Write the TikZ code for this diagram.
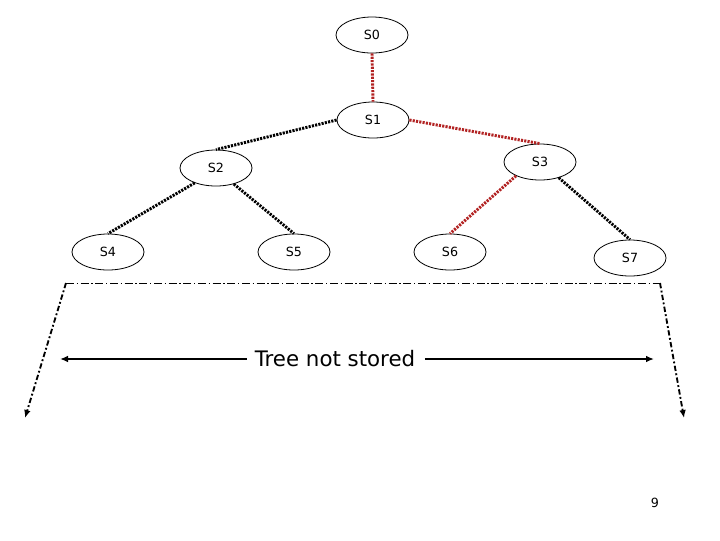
\documentclass[tikz,border=0pt]{standalone}
\usepackage{fontspec}
\setmainfont{DejaVu Sans}
\usetikzlibrary{shapes.geometric,arrows.meta}
\definecolor{edgered}{RGB}{178,34,34}
\tikzset{
  st/.style={ellipse,draw,line width=0.6pt,minimum width=54pt,minimum height=27pt,inner sep=0pt,font=\fontsize{9.5}{11}\selectfont},
  dotedge/.style={line width=2.2pt,dash pattern=on 1.6pt off 0.9pt},
  rededge/.style={dotedge,draw=edgered},
  blkedge/.style={dotedge,draw=black},
  dashdotthin/.style={line width=0.6pt,dash pattern=on 6pt off 2pt on 1pt off 2pt},
  dashdotthick/.style={line width=1.4pt,dash pattern=on 4pt off 1.8pt on 1.4pt off 1.8pt,-{Latex[length=6pt,width=5pt]}},
  solidarrow/.style={line width=1.6pt,-{Latex[length=6pt,width=5pt]}}
}
\begin{document}
\begin{tikzpicture}[x=0.75pt,y=-0.75pt]
\useasboundingbox (0,0) rectangle (720,540);
\node[st] (s0) at (372,35) {S0};
\node[st] (s1) at (373,120) {S1};
\node[st] (s2) at (216,168) {S2};
\node[st] (s3) at (540,162) {S3};
\node[st] (s4) at (108,252) {S4};
\node[st] (s5) at (294,252) {S5};
\node[st] (s6) at (450,252) {S6};
\node[st] (s7) at (630,258) {S7};
\draw[rededge] (s0.south) -- (s1.north);
\draw[blkedge] (s1.west) -- (s2.north);
\draw[rededge] (s1.east) -- (s3.north);
\draw[blkedge] (s2.-145) -- (s4.north);
\draw[blkedge] (s2.-42) -- (s5.north);
\draw[rededge] (s3.-150) -- (s6.north);
\draw[blkedge] (s3.-40) -- (s7.north);
\coordinate (tl) at (66,283);
\coordinate (tr) at (660,283);
\coordinate (bl) at (25,418);
\coordinate (br) at (684,418);
\draw[dashdotthin] (tl) -- (tr);
\draw[dashdotthick] (tl) -- (bl);
\draw[dashdotthick] (tr) -- (br);
\node[font=\fontsize{16}{19}\selectfont,inner sep=0pt] (txt) at (335,359) {Tree not stored};
\coordinate (al) at (60,359);
\coordinate (ar) at (654,359);
\draw[solidarrow] ([xshift=-6pt]txt.west) -- (al);
\draw[solidarrow] ([xshift=7pt]txt.east) -- (ar);
\node[font=\fontsize{9.5}{11}\selectfont] (pg) at (655,503) {9};
\end{tikzpicture}
\end{document}
